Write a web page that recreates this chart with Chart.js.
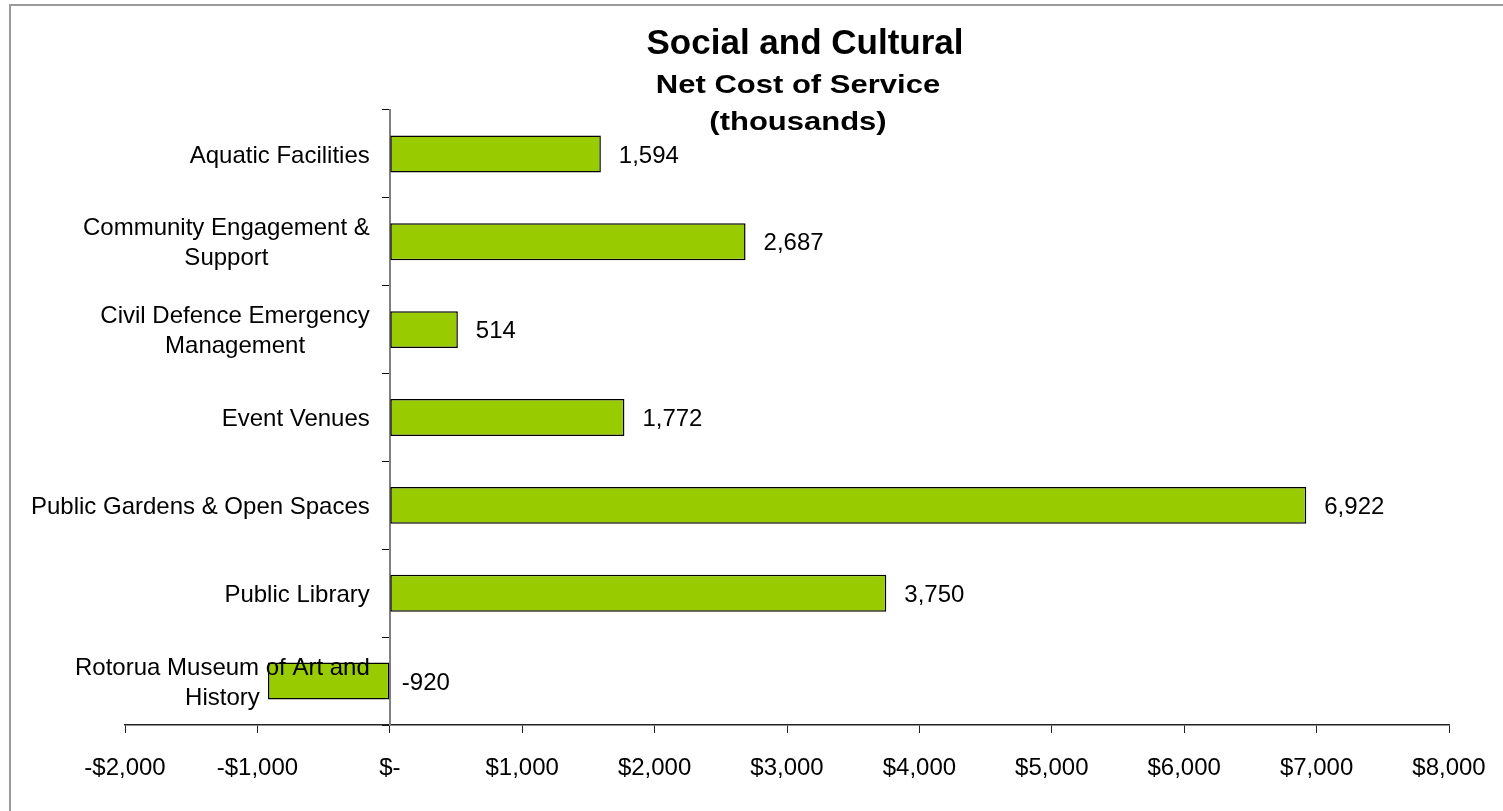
<!DOCTYPE html>
<html>
<head>
<meta charset="utf-8">
<title>Social and Cultural - Net Cost of Service</title>
<script src="https://cdn.jsdelivr.net/npm/chart.js@4.4.1/dist/chart.umd.min.js"></script>
<style>
  html, body { margin: 0; padding: 0; background: #fff; }
  #wrap { width: 1503px; height: 811px; position: relative; }
</style>
</head>
<body>
<div id="wrap"><canvas id="costChart"></canvas></div>
<script>
// Activities, top to bottom, split into the lines they are printed on
const activities = [
    ['Aquatic Facilities'],
    ['Community Engagement &', 'Support'],
    ['Civil Defence Emergency', 'Management'],
    ['Event Venues'],
    ['Public Gardens & Open Spaces'],
    ['Public Library'],
    ['Rotorua Museum of Art and', 'History']
];

// Net cost of service, $ thousands
const netCost = [1594, 2687, 514, 1772, 6922, 3750, -920];

// Value axis
const axisMin = -2000;
const axisMax = 8000;
const axisStep = 1000;

const FONT = "'Liberation Sans', Arial, sans-serif";

const money = (v) => {
    if (v === 0) return '$-';
    return (v < 0 ? '-$' : '$') + Math.abs(v).toLocaleString('en-US');
};

// Frame, titles, category names and the value labels
const decorations = {
    id: 'decorations',
    beforeDraw(chart) {
        const ctx = chart.ctx;
        ctx.save();
        ctx.strokeStyle = '#9a9a9a';
        ctx.lineWidth = 2;
        ctx.strokeRect(10, 5, chart.width, chart.height);
        ctx.restore();
    },
    afterDatasetsDraw(chart) {
        const ctx = chart.ctx;
        const x = chart.scales.x;
        const y = chart.scales.y;
        ctx.save();
        ctx.fillStyle = '#000';

        // titles
        ctx.textAlign = 'center';
        ctx.textBaseline = 'alphabetic';
        ctx.font = `bold 35px ${FONT}`;
        ctx.fillText('Social and Cultural', 805, 54);
        // subtitle is set wider than it is tall
        ctx.font = `bold 25px ${FONT}`;
        [['Net Cost of Service', 93], ['(thousands)', 130]].forEach(([t, by]) => {
            ctx.save();
            ctx.translate(798, by);
            ctx.scale(1.24, 1);
            ctx.fillText(t, 0, 0);
            ctx.restore();
        });

        // category names, right edge just left of the zero line, lines centred
        ctx.font = `24px ${FONT}`;
        const lineGap = 30;
        const right = x.getPixelForValue(0) - 20;
        activities.forEach((lines, i) => {
            const cy = y.getPixelForTick(i);
            const widest = Math.max(...lines.map(l => ctx.measureText(l).width));
            const mid = right - widest / 2;
            lines.forEach((l, j) => {
                const by = cy + 8.6 + (j - (lines.length - 1) / 2) * lineGap;
                ctx.fillText(l, mid, by);
            });
        });

        // value labels past the end of each bar
        ctx.textAlign = 'left';
        const meta = chart.getDatasetMeta(0);
        meta.data.forEach((bar, i) => {
            const v = netCost[i];
            const lx = x.getPixelForValue(Math.max(v, 0)) + (v < 0 ? 12 : 18);
            ctx.fillText(v.toLocaleString('en-US'), lx, bar.y + 8.6);
        });
        ctx.restore();
    }
};

new Chart(document.getElementById('costChart'), {
    type: 'bar',
    data: {
        labels: activities,
        datasets: [{
            data: netCost,
            backgroundColor: '#99cc00',
            borderColor: '#000',
            borderWidth: 1.5,
            borderSkipped: false,
            categoryPercentage: 1,
            barPercentage: 0.42
        }]
    },
    options: {
        indexAxis: 'y',
        responsive: true,
        maintainAspectRatio: false,
        animation: false,
        layout: { padding: { left: 125, right: 54, top: 110, bottom: 0 } },
        plugins: {
            legend: { display: false },
            tooltip: { enabled: false }
        },
        scales: {
            x: {
                min: axisMin,
                max: axisMax,
                // fixed height, and the end labels may overhang into the padding
                afterFit: (s) => {
                    s.height = 86;
                    s.paddingLeft = 0;
                    s.paddingRight = 0;
                },
                ticks: {
                    stepSize: axisStep,
                    padding: 21,
                    color: '#000',
                    font: { family: FONT, size: 24 },
                    callback: (v) => money(v)
                },
                grid: {
                    drawOnChartArea: false,
                    tickLength: 8,
                    tickColor: '#222'
                },
                border: { color: '#222', width: 1.5 }
            },
            y: {
                position: { x: 0 },
                offset: true,
                ticks: { display: false },
                grid: {
                    offset: true,
                    drawOnChartArea: false,
                    tickLength: 7,
                    tickColor: '#111'
                },
                border: { color: '#808080', width: 2 }
            }
        }
    },
    plugins: [decorations]
});
</script>
</body>
</html>
